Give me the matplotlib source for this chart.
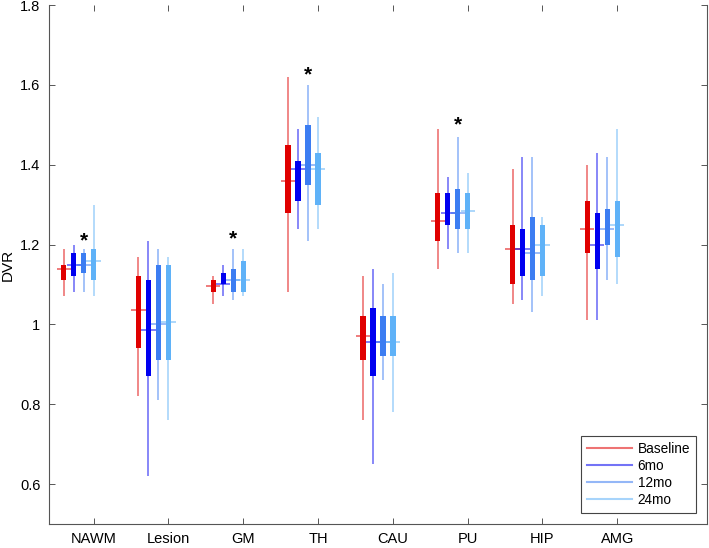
import matplotlib
matplotlib.use("Agg")
import matplotlib.pyplot as plt
from matplotlib.lines import Line2D
import numpy as np

plt.rcParams['font.family'] = ['Liberation Sans', 'DejaVu Sans']

regions = ["NAWM", "Lesion", "GM", "TH", "CAU", "PU", "HIP", "AMG"]
series = ["Baseline", "6mo", "12mo", "24mo"]

# per series: whisker low, Q1, median, Q3, whisker high (per region)
base_lo  = [1.07, 0.82, 1.05, 1.08, 0.76, 1.14, 1.05, 1.01]
base_q1  = [1.11, 0.94, 1.08, 1.28, 0.91, 1.21, 1.10, 1.18]
base_med = [1.14, 1.035, 1.095, 1.36, 0.97, 1.26, 1.19, 1.24]
base_q3  = [1.15, 1.12, 1.11, 1.45, 1.02, 1.33, 1.25, 1.31]
base_hi  = [1.19, 1.17, 1.12, 1.62, 1.12, 1.49, 1.39, 1.40]

m6_lo  = [1.08, 0.62, 1.07, 1.24, 0.65, 1.19, 1.06, 1.01]
m6_q1  = [1.12, 0.87, 1.10, 1.31, 0.87, 1.25, 1.12, 1.14]
m6_med = [1.15, 0.985, 1.10, 1.39, 0.955, 1.28, 1.19, 1.20]
m6_q3  = [1.18, 1.11, 1.13, 1.41, 1.04, 1.33, 1.24, 1.28]
m6_hi  = [1.20, 1.21, 1.15, 1.49, 1.14, 1.37, 1.42, 1.43]

m12_lo  = [1.08, 0.81, 1.06, 1.21, 0.86, 1.18, 1.03, 1.11]
m12_q1  = [1.13, 0.91, 1.08, 1.35, 0.92, 1.24, 1.11, 1.20]
m12_med = [1.15, 1.00, 1.11, 1.40, 0.955, 1.28, 1.18, 1.24]
m12_q3  = [1.18, 1.15, 1.14, 1.50, 1.02, 1.34, 1.27, 1.29]
m12_hi  = [1.19, 1.19, 1.19, 1.60, 1.10, 1.47, 1.42, 1.42]

m24_lo  = [1.07, 0.76, 1.07, 1.24, 0.78, 1.18, 1.07, 1.10]
m24_q1  = [1.11, 0.91, 1.08, 1.30, 0.92, 1.24, 1.12, 1.17]
m24_med = [1.16, 1.005, 1.11, 1.39, 0.955, 1.285, 1.20, 1.25]
m24_q3  = [1.19, 1.15, 1.16, 1.43, 1.02, 1.33, 1.25, 1.31]
m24_hi  = [1.30, 1.17, 1.19, 1.52, 1.13, 1.38, 1.27, 1.49]

# significance stars (region index, series index, y)
star_region = [0, 2, 3, 5]
star_series = [2, 2, 2, 2]
star_y = [1.209, 1.215, 1.625, 1.50]

stats = [
    (base_lo, base_q1, base_med, base_q3, base_hi),
    (m6_lo, m6_q1, m6_med, m6_q3, m6_hi),
    (m12_lo, m12_q1, m12_med, m12_q3, m12_hi),
    (m24_lo, m24_q1, m24_med, m24_q3, m24_hi),
]
colors = ["#e00000", "#0000f0", "#3c7df2", "#5fb2f8"]
offsets = [-0.40, -0.267, -0.133, 0.0]
box_w = 0.072
med_w = 0.19

fig = plt.figure(figsize=(7.09, 5.48), dpi=100)
ax = fig.add_axes([0.0687, 0.0438, 0.9285, 0.947])

x = np.arange(1, len(regions) + 1)
for i, (lo, q1, med, q3, hi) in enumerate(stats):
    pos = x + offsets[i]
    lo, q1, med, q3, hi = map(np.asarray, (lo, q1, med, q3, hi))
    ax.vlines(pos, lo, hi, colors=colors[i], alpha=0.55, linewidth=1.2)
    ax.bar(pos, q3 - q1, bottom=q1, width=box_w, color=colors[i], linewidth=0)
    ax.hlines(med, pos - med_w / 2, pos + med_w / 2, colors=colors[i], alpha=0.6, linewidth=1.2)

for r, s, yv in zip(star_region, star_series, star_y):
    ax.text(x[r] + offsets[s], yv, "*", ha="center", va="center",
            fontsize=15, fontweight="bold", color="black")

ax.set_xlim(0.4, 9.2)
ax.set_ylim(0.5, 1.8)
ax.set_xticks(x)
ax.set_xticklabels(regions)
ax.set_yticks([0.6, 0.8, 1.0, 1.2, 1.4, 1.6, 1.8])
ax.set_yticklabels(["0.6", "0.8", "1", "1.2", "1.4", "1.6", "1.8"])
ax.set_ylabel("DVR", fontsize=11)
ax.tick_params(direction="in", length=4, width=0.7, color="#555555",
               labelsize=10.5, top=True, right=True, pad=6)
for side in ["left", "right", "bottom"]:
    ax.spines[side].set_color("#555555")
    ax.spines[side].set_linewidth(0.8)
ax.spines["top"].set_visible(False)

handles = [Line2D([0], [0], color=c, alpha=0.55, linewidth=1.5) for c in colors]
leg = ax.legend(handles, series, loc="lower right", fontsize=9.8,
                fancybox=False, framealpha=1, edgecolor="#444444",
                handlelength=3.3, handletextpad=0.4, borderaxespad=0.8,
                labelspacing=0.22, borderpad=0.45)
leg.get_frame().set_linewidth(0.8)

fig.savefig("out.png", dpi=100)
